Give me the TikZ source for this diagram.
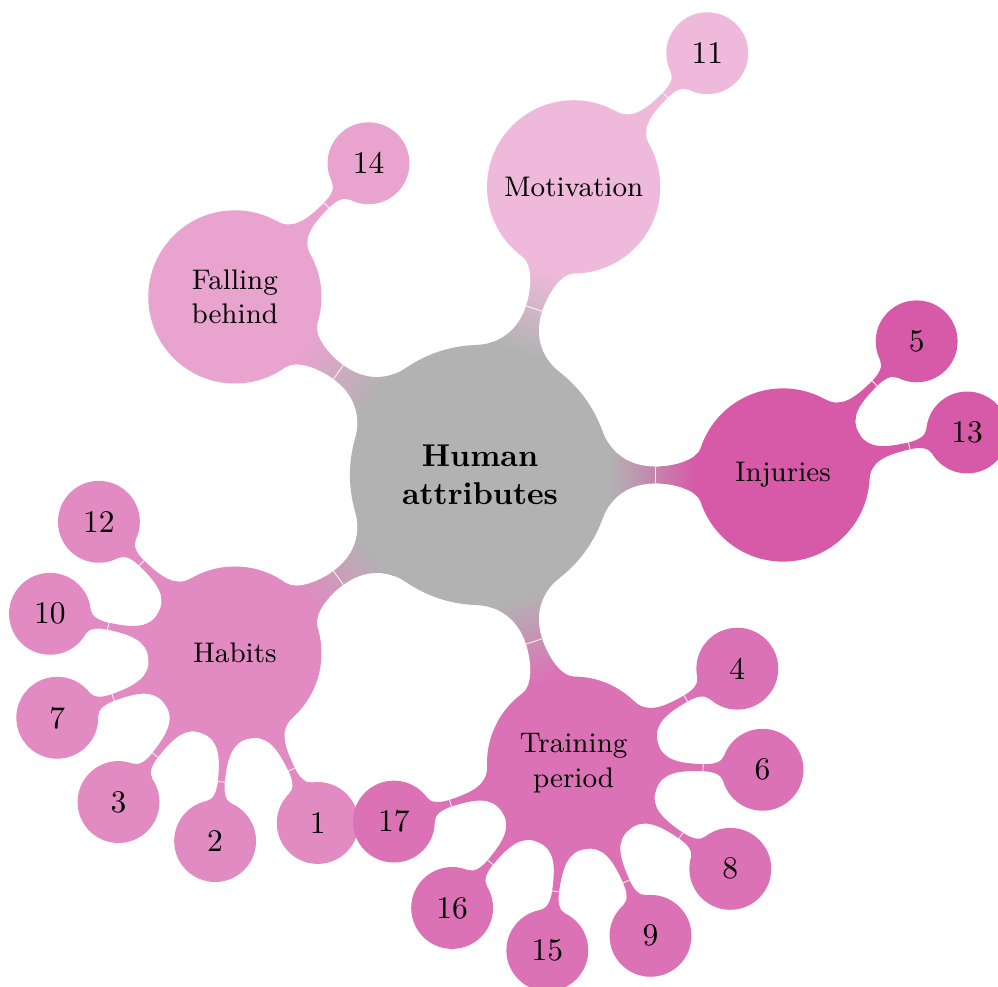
\documentclass[tikz,border=0pt]{standalone}
\usetikzlibrary{calc}

\definecolor{rootgray}{gray}{0.7}
\definecolor{injc}{RGB}{214,90,167}
\definecolor{trainc}{RGB}{220,114,182}
\definecolor{habitc}{RGB}{226,138,194}
\definecolor{fallc}{RGB}{232,163,206}
\definecolor{motivc}{RGB}{239,185,219}

\pgfdeclarelayer{background}
\pgfsetlayers{background,main}

% ---- connection bars between two circles -------------------------------
% shape parameters (lengths in picture units): radii of the two circles,
% angles where the bar leaves / joins them, neck position and half width,
% and the handle lengths of the Bezier curves
\newcommand\barparamsmain{\def\BRa{130}\def\BRb{86.6}\def\Bpa{20}\def\Bpb{18}%
  \def\Bxm{175}\def\Bw{8.4}\def\Bka{25}\def\Bkb{25}\def\Bkc{20}\def\Bkd{12}}
\newcommand\barparamsleaf{\def\BRa{86.6}\def\BRb{40.9}\def\Bpa{16}\def\Bpb{18}%
  \def\Bxm{129.5}\def\Bw{3.5}\def\Bka{18}\def\Bkb{25}\def\Bkc{10}\def\Bkd{7}}

\newcommand\barsetup[3]{%
  \pgfmathanglebetweenpoints{\pgfpointanchor{#1}{center}}{\pgfpointanchor{#2}{center}}%
  \let\Bang\pgfmathresult
  \pgfpointdiff{\pgfpointanchor{#1}{center}}{\pgfpointanchor{#2}{center}}%
  \pgfgetlastxy{\Bvx}{\Bvy}%
  \pgfmathsetmacro\Bd{veclen(\Bvx,\Bvy)/0.3175}%
  \csname barparams#3\endcsname
  \pgfmathsetmacro\Pax{\BRa*cos(\Bpa)}%
  \pgfmathsetmacro\Pay{\BRa*sin(\Bpa)}%
  \pgfmathsetmacro\Pbx{\Pax+\Bka*sin(\Bpa)}%
  \pgfmathsetmacro\Pby{\Pay-\Bka*cos(\Bpa)}%
  \pgfmathsetmacro\Pcx{\Bxm-\Bkb}%
  \pgfmathsetmacro\Pdx{\Bxm+\Bkc}%
  \pgfmathsetmacro\Qx{\Bd-\BRb*cos(\Bpb)}%
  \pgfmathsetmacro\Qy{\BRb*sin(\Bpb)}%
  \pgfmathsetmacro\Pex{\Qx-\Bkd*sin(\Bpb)}%
  \pgfmathsetmacro\Pey{\Qy-\Bkd*cos(\Bpb)}%
}

\newcommand\barpath{%
  (\Pax,\Pay) .. controls (\Pbx,\Pby) and (\Pcx,\Bw) .. (\Bxm,\Bw)
  .. controls (\Pdx,\Bw) and (\Pex,\Pey) .. (\Qx,\Qy)
  -- (\Qx,-\Qy) .. controls (\Pex,-\Pey) and (\Pdx,-\Bw) .. (\Bxm,-\Bw)
  .. controls (\Pcx,-\Bw) and (\Pbx,-\Pby) .. (\Pax,-\Pay) -- cycle}

% bar in one colour
\newcommand\leafbar[3]{%
  \barsetup{#1}{#2}{leaf}%
  \begin{scope}[shift={(#1.center)}, rotate=\Bang]
    \fill[#3] \barpath;
    \draw[bartick] (\Bxm,\Bw) -- (\Bxm,-\Bw);
  \end{scope}}

% bar fading from the centre grey to the colour of the child
\newcommand\mainbar[3]{%
  \barsetup{#1}{#2}{main}%
  \begin{scope}[shift={(#1.center)}, rotate=\Bang]
    \begin{scope}
      \clip \barpath;
      \pgfmathsetmacro\Bga{\BRa-1}%
      \pgfmathsetmacro\Bgb{\Bd-\BRb+1}%
      \fill[rootgray] (0,-150) rectangle (\Bga+1,150);
      \fill[#3] (\Bgb,-150) rectangle (\Bd,150);
      \foreach \i in {0,...,39}{%
        \pgfmathsetmacro\xa{\Bga+\i*(\Bgb-\Bga)/40}%
        \pgfmathsetmacro\xb{\xa+(\Bgb-\Bga)/40+0.8}%
        \pgfmathsetmacro\pc{100-\i*100/39}%
        \fill[rootgray!\pc!#3] (\xa,-150) rectangle (\xb,150);
      }
    \end{scope}
    \draw[bartick] (\Bxm,\Bw) -- (\Bxm,-\Bw);
  \end{scope}}

\begin{document}
\begin{tikzpicture}[x=0.3175pt, y=0.3175pt,
  rootnode/.style={circle, fill=rootgray, minimum size=82.6pt, inner sep=0pt,
    text width=62pt, align=center, font=\bfseries},
  mainnode/.style={circle, minimum size=55pt, inner sep=0pt,
    text width=50pt, align=center, font=\small},
  leafnode/.style={circle, minimum size=26pt, inner sep=0pt,
    text width=20pt, align=center},
  bartick/.style={white, line width=0.3pt, opacity=0.85},
]
\useasboundingbox (0,0) rectangle (998,987);

% centre
\node[rootnode] (root) at (480,512) {Human attributes};

% first ring
\node[mainnode, fill=injc]   (inj)   at ($(root)+(0:303)$)   {Injuries};
\node[mainnode, fill=motivc] (motiv) at ($(root)+(72:303)$)  {Motivation};
\node[mainnode, fill=fallc]  (fall)  at ($(root)+(144:303)$) {Falling behind};
\node[mainnode, fill=habitc] (habit) at ($(root)+(216:303)$) {Habits};
\node[mainnode, fill=trainc] (train) at ($(root)+(288:303)$) {Training period};

% leaves
\node[leafnode, fill=motivc] (l11) at ($(motiv)+(45:189)$) {11};
\node[leafnode, fill=fallc]  (l14) at ($(fall)+(45:189)$)  {14};
\node[leafnode, fill=injc]   (l5)  at ($(inj)+(45:189)$)   {5};
\node[leafnode, fill=injc]   (l13) at ($(inj)+(13:189)$)   {13};

\node[leafnode, fill=habitc] (l12) at ($(habit)+(136:189)$) {12};
\node[leafnode, fill=habitc] (l10) at ($(habit)+(168:189)$) {10};
\node[leafnode, fill=habitc] (l7)  at ($(habit)+(200:189)$) {7};
\node[leafnode, fill=habitc] (l3)  at ($(habit)+(232:189)$) {3};
\node[leafnode, fill=habitc] (l2)  at ($(habit)+(264:189)$) {2};
\node[leafnode, fill=habitc] (l1)  at ($(habit)+(296:189)$) {1};

\node[leafnode, fill=trainc] (l4)  at ($(train)+(30:189)$)   {4};
\node[leafnode, fill=trainc] (l6)  at ($(train)+(-2:189)$)   {6};
\node[leafnode, fill=trainc] (l8)  at ($(train)+(-34:189)$)  {8};
\node[leafnode, fill=trainc] (l9)  at ($(train)+(-66:189)$)  {9};
\node[leafnode, fill=trainc] (l15) at ($(train)+(-98:189)$)  {15};
\node[leafnode, fill=trainc] (l16) at ($(train)+(-130:189)$) {16};
\node[leafnode, fill=trainc] (l17) at ($(train)+(-162:189)$) {17};

% connection bars behind the circles
\begin{pgfonlayer}{background}
  \mainbar{root}{inj}{injc}
  \mainbar{root}{motiv}{motivc}
  \mainbar{root}{fall}{fallc}
  \mainbar{root}{habit}{habitc}
  \mainbar{root}{train}{trainc}

  \leafbar{motiv}{l11}{motivc}
  \leafbar{fall}{l14}{fallc}
  \leafbar{inj}{l5}{injc}
  \leafbar{inj}{l13}{injc}
  \foreach \n in {l12,l10,l7,l3,l2,l1}{\leafbar{habit}{\n}{habitc}}
  \foreach \n in {l4,l6,l8,l9,l15,l16,l17}{\leafbar{train}{\n}{trainc}}
\end{pgfonlayer}
\end{tikzpicture}
\end{document}
